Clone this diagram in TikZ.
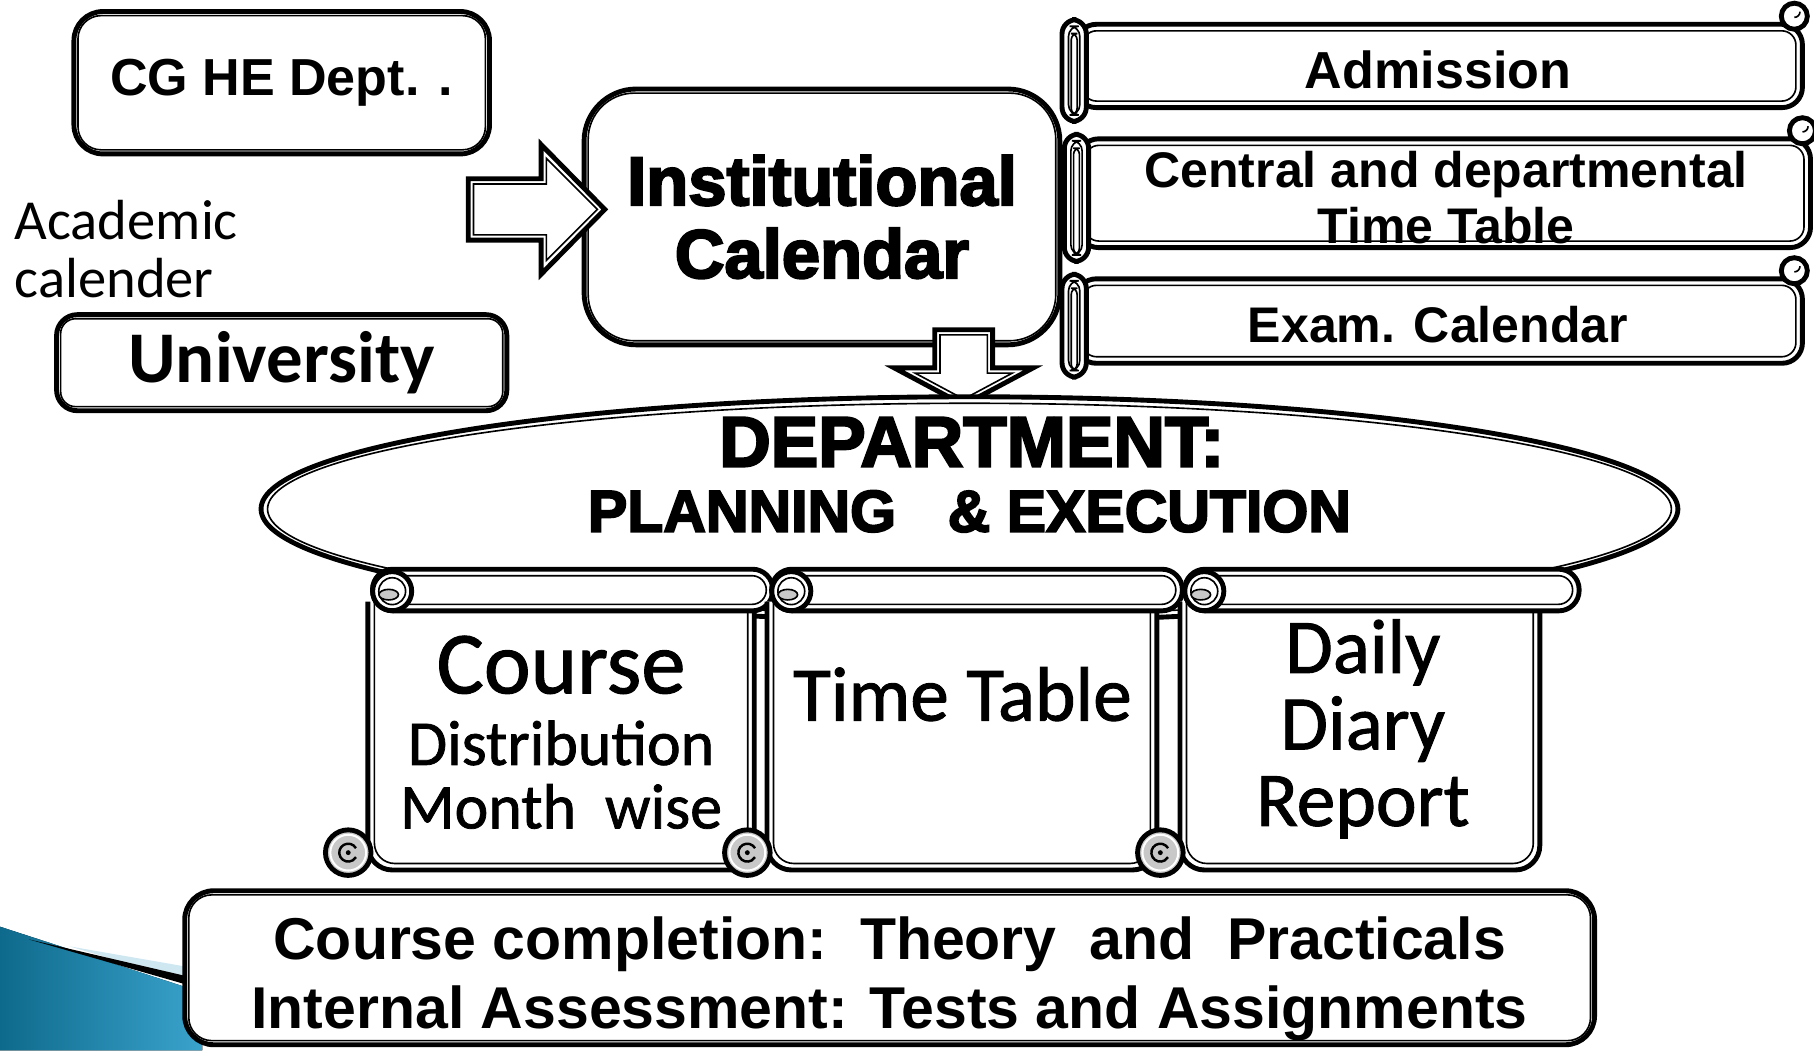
\documentclass[tikz,border=0pt]{standalone}
\usepackage{fontspec}
\setmainfont{Liberation Sans}
\newfontfamily\heavyfont{Liberation Sans Bold}[FakeBold=3.2]
\newfontfamily\calfont{Carlito}
\newfontfamily\calmid{Carlito}[FakeBold=1.2]
\usetikzlibrary{shapes.geometric,calc}

\definecolor{swdark}{HTML}{0E6A8C}
\definecolor{swlight}{HTML}{3AA3CC}
\definecolor{swpale}{HTML}{CFE7F1}
\definecolor{curlgray}{HTML}{C8C8C8}

\tikzset{
  outer/.style={draw=black, line width=1.2pt},
  inner/.style={draw=black, line width=0.4pt},
  dbox/.style={outer, fill=white, rounded corners=#1, inner sep=0pt, align=center},
}
\newcommand{\fs}[2]{\fontsize{#1}{#2}\selectfont}
% thin line inside a thick rounded frame
\newcommand{\innerframe}[2]{\draw[inner, rounded corners=#2]
  ([shift={(1.6pt,1.6pt)}]#1.south west) rectangle ([shift={(-1.6pt,-1.6pt)}]#1.north east);}
% banner: left, right, top, bottom
\newcommand{\banner}[4]{
  \draw[outer, fill=white, rounded corners=5pt] (#1,#3) rectangle (#2,#4);
  \draw[inner, rounded corners=3.5pt] ($(#1,#3)+(1.6pt,-1.6pt)$) rectangle ($(#2,#4)+(-1.6pt,1.6pt)$);
  \draw[outer, fill=white, rounded corners=3.5pt] (#1-12,#3-4) rectangle (#1+9,#4+12);
  \draw[inner, rounded corners=2.5pt] ($(#1-12,#3-4)+(1.6pt,-1.6pt)$) rectangle ($(#1+9,#4+12)+(-1.6pt,1.6pt)$);
  \draw[inner, rounded corners=1.5pt] (#1-4,#3+8) rectangle (#1+1,#4+6);
  \draw[outer, fill=white] (#2-7,#3-7) circle (3.2pt);
  \draw[inner] (#2-7,#3-6) arc (270:90+270:1.4pt);
}
% scroll panel: left, right, end of top roll
\newcommand{\scrollpanel}[3]{
  \draw[outer, fill=white, rounded corners=6pt] (#1,520) -- (#1,752) -- (#2,752) -- (#2,520);
  \draw[inner, rounded corners=5pt] ($(#1,520)+(1.6pt,0)$) -- ($(#1,752)+(1.6pt,1.6pt)$)
    -- ($(#2,752)+(-1.6pt,1.6pt)$) -- ($(#2,520)+(-1.6pt,0)$);
  \draw[outer, fill=white, rounded corners=5pt] (#1+4,492) rectangle (#3,528);
  \draw[inner, rounded corners=3.5pt] ($(#1+4,492)+(1.6pt,-1.6pt)$) rectangle ($(#3,528)+(-1.6pt,1.6pt)$);
  % top curl
  \draw[outer, fill=white] (#1+21,511) circle (4.8pt);
  \draw[inner] (#1+21,511) circle (3.3pt);
  \filldraw[inner, fill=curlgray] (#1+18,514) ellipse (2.4pt and 1.3pt);
  % bottom curl
  \draw[outer, fill=curlgray] (#1-17,737) circle (5.6pt);
  \draw[white, line width=0.5pt] (#1-17,737) circle (4.4pt);
  \draw[inner, line width=0.6pt] (#1-17,737) ++(1.9pt,1.1pt) arc (30:330:2.2pt);
  \fill (#1-17,737) circle (0.6pt);
}

\begin{document}
\begin{tikzpicture}[x=0.01cm, y=-0.01cm]
  \useasboundingbox (0,0) rectangle (1568,908);
  \fill[white] (0,0) rectangle (1568,908);

  % swoosh in the corner
  \fill[left color=swdark, right color=swlight] (0,801) -- (175,858) -- (175,908) -- (0,908) -- cycle;
  \fill[swpale] (60,818) -- (175,838) -- (175,852) -- cycle;
  \fill[black] (25,812) -- (175,847) -- (175,855) -- cycle;

  % left column
  \node[dbox=0.25cm, minimum width=3.59cm, minimum height=1.23cm, font=\bfseries\fs{12.8}{14}]
    (cghe) at (243.5,71.5) {CG HE Dept. .};
  \innerframe{cghe}{0.2cm}
  \node[anchor=west, align=left, inner sep=0pt, font=\calfont\fs{13.9}{14.2}] (acad) at (12,215) {Academic\\calender};
  \node[dbox=0.18cm, minimum width=3.89cm, minimum height=0.83cm, font=\calfont\bfseries\fs{17.9}{18}]
    (univ) at (243.5,313.5) {University};
  \innerframe{univ}{0.13cm}

  % institutional calendar
  \node[dbox=0.45cm, minimum width=4.11cm, minimum height=2.21cm, font=\heavyfont\fs{16.9}{17.9}]
    (inst) at (710.5,187.5) {Institutional\\Calendar};
  \innerframe{inst}{0.4cm}

  % block arrow into the calendar
  \coordinate (rtip) at ($(inst.west)+(20,-6.5)$);
  \draw[outer, fill=white] (rtip) -- ++(-55,-56) -- ++(0,29.5) -- ++(-63,0) -- ++(0,53) -- ++(63,0) -- ++(0,29.5) -- cycle;
  \draw[inner] ($(rtip)+(-6.4,0)$) -- ++(-44.1,-44.1) -- ++(0,22.1) -- ++(-63,0) -- ++(0,44) -- ++(63,0) -- ++(0,22.1) -- cycle;

  % banners on the right
  \banner{930}{1558}{21}{93}
  \node[font=\bfseries\fs{12.8}{14}] (adm) at (1243,60) {Admission};
  \banner{932}{1565}{120}{214}
  \node[align=center, font=\bfseries\fs{12.3}{13.7}] (ctt) at (1250,171) {Central and departmental\\Time Table};
  \banner{930}{1558}{241}{314}
  \node[font=\bfseries\fs{12.3}{14}] (exam) at (1243,281) {Exam. Calendar};

  % department ellipse
  \coordinate (dtip) at (833,350);
  \draw[outer, fill=white] (dtip) -- ++(-60,-32) -- ++(35,0) -- ++(0,-33) -- ++(50,0) -- ++(0,33) -- ++(35,0) -- cycle;
  \draw[inner] ($(dtip)+(0,-5)$) -- ++(-42,-22.5) -- ++(21.5,0) -- ++(0,-33) -- ++(41,0) -- ++(0,33) -- ++(21.5,0) -- cycle;
  \node[outer, fill=white, ellipse, minimum width=12.24cm, minimum height=1.94cm, inner sep=0pt]
    (dept) at (838,440) {};
  \draw[inner] (dept.center) ellipse [x radius=6.12cm-1.6pt, y radius=0.97cm-1.6pt];
  \node[font=\heavyfont\fs{17.5}{18}] (depta) at (840,382) {DEPARTMENT:};
  \node[font=\heavyfont\fs{14.5}{16}] (deptb) at (838,442) {PLANNING\hspace{0.6em} \& EXECUTION};

  % scrolls
  \scrollpanel{318}{652}{668}
  \scrollpanel{663}{1000}{1022}
  \scrollpanel{1020}{1331}{1365}
  \node[align=center, font=\calmid\fs{15.7}{15.6}] (course) at (485,633)
    {{\fs{21.8}{22}Course}\\[2pt]Distribution\\Month\ \ wise};
  \node[font=\calmid\fs{19}{20}] (ttab) at (832,600) {Time Table};
  \node[align=center, font=\calmid\fs{19}{18.8}] (diary) at (1178,630) {Daily\\Diary\\Report};

  % course completion
  \node[dbox=0.25cm, minimum width=12.18cm, minimum height=1.33cm] (compl) at (769,836.5) {};
  \innerframe{compl}{0.2cm}
  \node[align=center, font=\bfseries\fs{14.5}{17}] (compltext) at (769,846)
    {Course completion:\ \ Theory\ \ and\ \ Practicals\\Internal Assessment: Tests and Assignments};
\end{tikzpicture}
\end{document}
